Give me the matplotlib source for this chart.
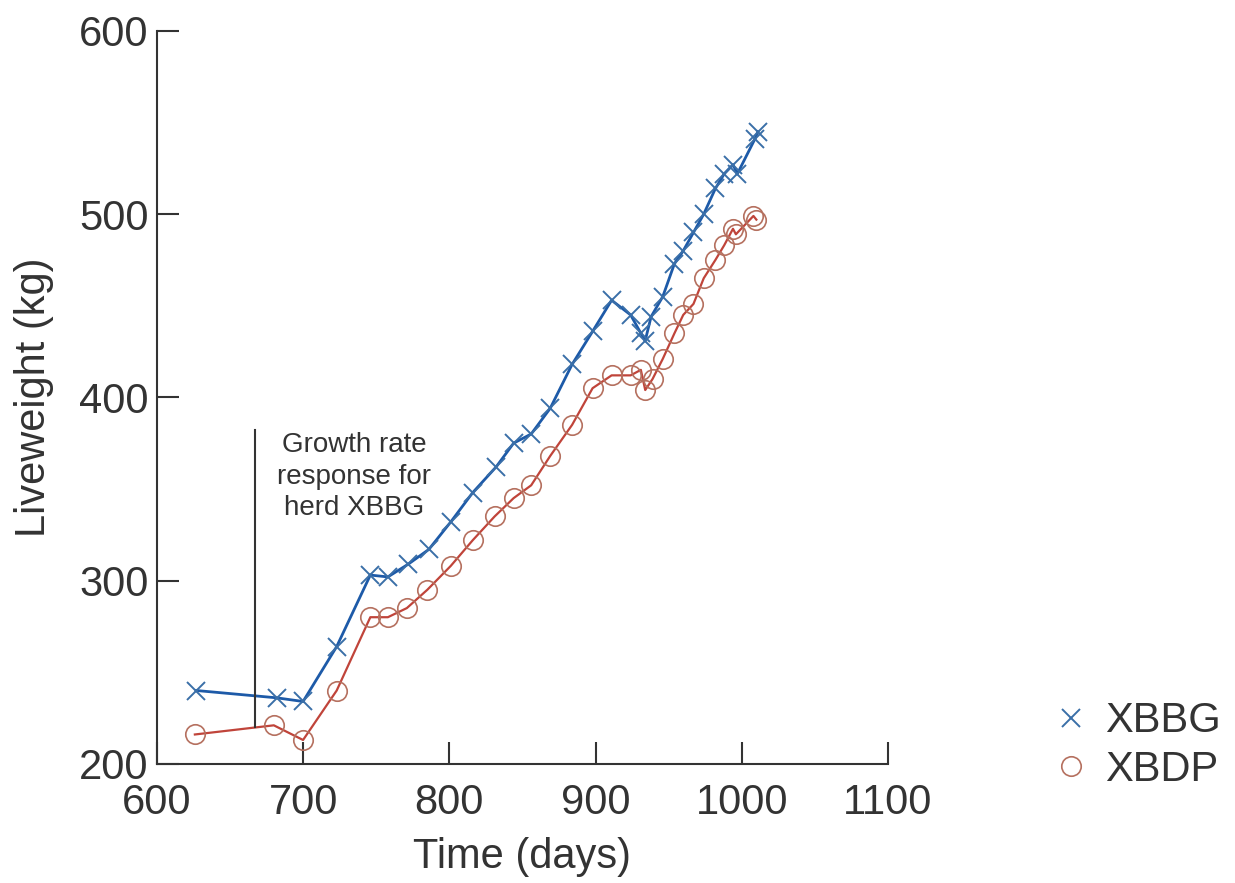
# Liveweight of the two herds over time

import matplotlib.pyplot as plt

# herd XBBG (blue crosses)
xbbg_days = [627, 682, 700, 723, 746, 758, 772, 786, 801, 816, 832, 844, 856,
             869, 884, 898, 911, 924, 931, 934, 938, 946, 954, 960, 967, 974,
             982, 988, 994, 997, 1009, 1011]
xbbg_kg = [240, 236, 234, 264, 303, 302, 309, 317, 332, 348, 362, 375, 380,
           394, 418, 436, 453, 445, 435, 431, 444, 455, 473, 480, 490, 500,
           514, 522, 527, 522, 541, 545]

# herd XBDP (red circles)
xbdp_days = [626, 680, 700, 723, 746, 758, 771, 785, 801, 816, 831, 844, 856,
             869, 884, 898, 911, 924, 931, 934, 939, 946, 954, 960, 967, 974,
             982, 988, 994, 996, 1008, 1010]
xbdp_kg = [216, 221, 213, 240, 280, 280, 285, 295, 308, 322, 335, 345, 352,
           368, 385, 405, 412, 412, 415, 404, 410, 421, 435, 445, 451, 465,
           475, 483, 492, 489, 499, 497]

plt.rcParams["font.family"] = ["Liberation Sans", "DejaVu Sans"]
fig = plt.figure(figsize=(12.35, 8.83), dpi=100)
ax = fig.add_axes([0.127, 0.135, 0.592, 0.83])

blue = "#1d5aa8"
red = "#c0443a"
dark = "#333333"

ax.plot(xbbg_days, xbbg_kg, "-", color=blue, lw=2)
ax.plot(xbbg_days, xbbg_kg, "x", ms=13, mew=1.4, color="#3a6fa8", label="XBBG")
ax.plot(xbdp_days, xbdp_kg, "-", color=red, lw=1.6)
ax.plot(xbdp_days, xbdp_kg, "o", ms=14, mew=1.2, mfc="none", mec="#b5705f",
        label="XBDP")

# marker for the growth rate response
ax.plot([667, 667], [220, 382], color=dark, lw=1.5)
ax.text(735, 381, "Growth rate\nresponse for\nherd XBBG", ha="center", va="top",
        fontsize=20, color=dark, linespacing=1.27)

ax.set_xlim(600, 1100)
ax.set_ylim(200, 600)
ax.set_xticks([600, 700, 800, 900, 1000, 1100])
ax.set_yticks([200, 300, 400, 500, 600])
ax.tick_params(direction="in", length=16, width=1.5, labelsize=30,
               colors=dark)
ax.tick_params(axis="x", pad=14)
ax.tick_params(axis="y", pad=6)
ax.spines["top"].set_visible(False)
ax.spines["right"].set_visible(False)
for s in ["left", "bottom"]:
    ax.spines[s].set_linewidth(1.5)
    ax.spines[s].set_color(dark)

ax.set_xlabel("Time (days)", fontsize=30, color=dark, labelpad=10)
ax.set_ylabel("Liveweight (kg)", fontsize=30, color=dark, labelpad=18)

ax.legend(loc="center left", bbox_to_anchor=(1.171, 0.025), frameon=False,
          fontsize=30, handlelength=1.0, handletextpad=0.3, labelspacing=0.2,
          labelcolor=dark)

plt.savefig("out.png")
